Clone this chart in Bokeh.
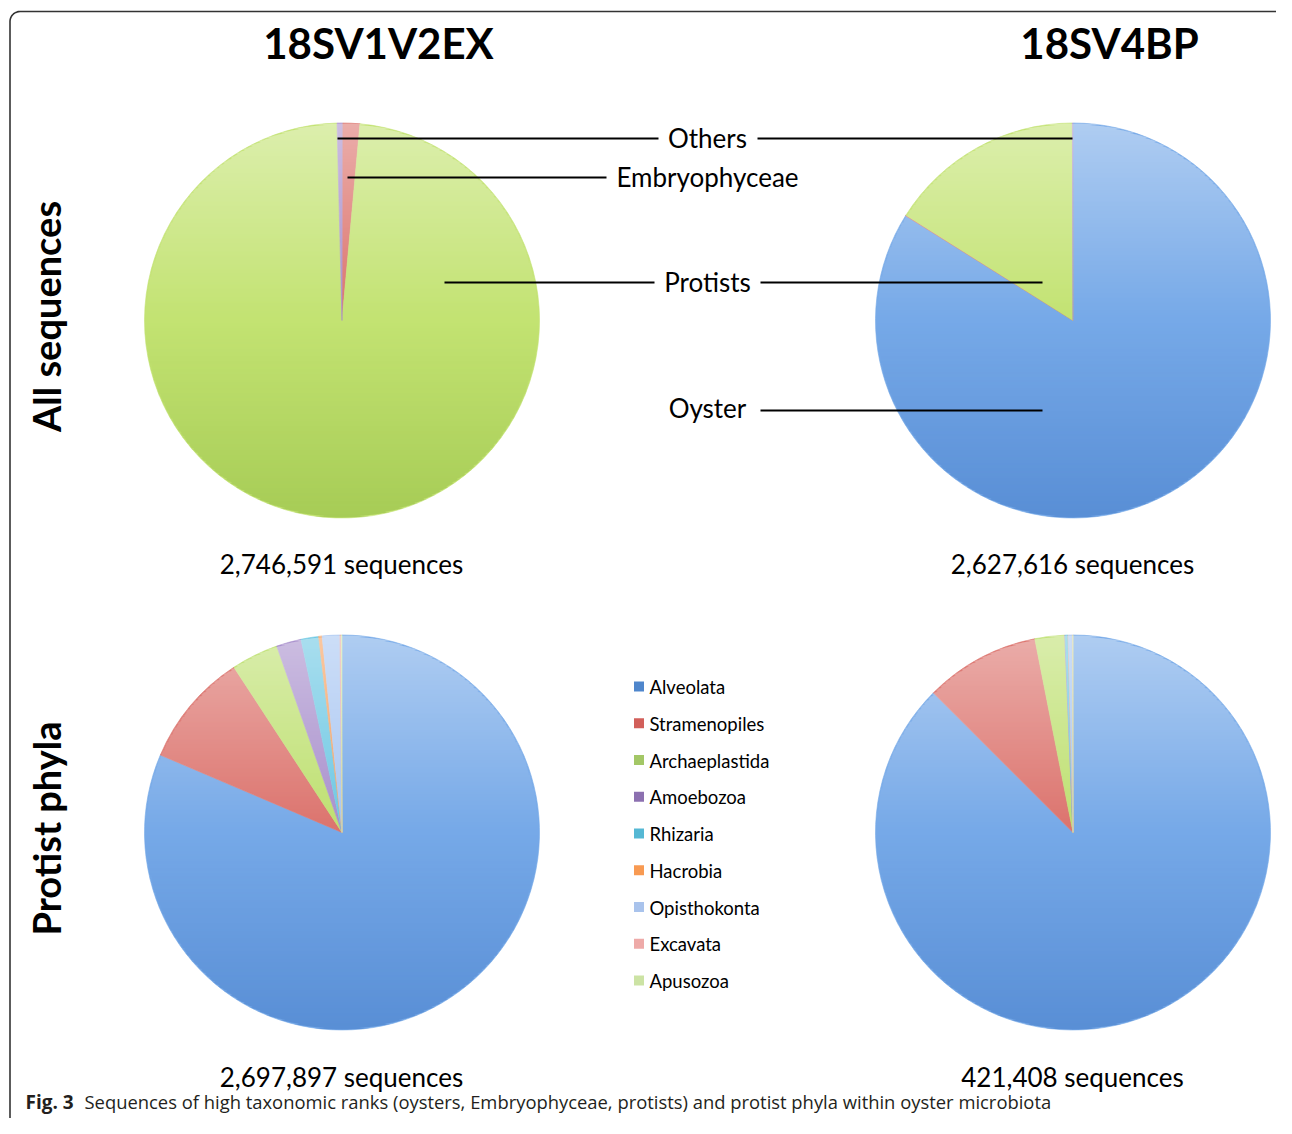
import numpy as np
from bokeh.plotting import figure
from bokeh.models import Range1d, ColumnDataSource
from bokeh.embed import file_html
from bokeh.resources import INLINE
from bokeh.core.properties import value

# ---------------- data ----------------
titles = ["18SV1V2EX", "18SV4BP"]
row_labels = ["All sequences", "Protist phyla"]

ranks = ["Oyster", "Embryophyceae", "Protists", "Others"]
ranks_v1v2 = [0.05, 1.4, 98.15, 0.4]      # % of sequences
ranks_v4 = [83.9, 0.05, 16.0, 0.05]

phyla = ["Alveolata", "Stramenopiles", "Archaeplastida", "Amoebozoa", "Rhizaria",
         "Hacrobia", "Opisthokonta", "Excavata", "Apusozoa"]
phyla_v1v2 = [81.4, 9.36, 3.86, 2.03, 1.44, 0.28, 1.44, 0.11, 0.06]
phyla_v4 = [87.5, 9.4, 2.43, 0.05, 0.22, 0.02, 0.33, 0.03, 0.02]

seq_counts = ["2,746,591 sequences", "2,627,616 sequences",
              "2,697,897 sequences", "421,408 sequences"]

caption_bold = "Fig. 3"
caption_text = ("Sequences of high taxonomic ranks (oysters, Embryophyceae, protists) "
                "and protist phyla within oyster microbiota")

# ---------------- styles ----------------
rank_colors = ["#76A9E8", "#DC736D", "#C3E372", "#A88FCC"]
phyla_colors = ["#76A9E8", "#DC736D", "#BEE070", "#A88FCC", "#6CC7E3",
                "#F7A05E", "#A8C6F2", "#EBA4A2", "#CFE7A4"]
legend_colors = ["#4F86CC", "#D25F5A", "#A3C766", "#8C70B0", "#55B8D4",
                 "#F89A52", "#A9C3EC", "#EEAAA8", "#CCE3A4"]
bottom_tints = [(100, 150, 20), (20, 80, 170), (20, 80, 170), (20, 80, 170)]

FONT = "Lato"
W, H = 1276, 1118

p = figure(width=W, height=H, x_range=Range1d(0, W), y_range=Range1d(-H, 0),
           output_backend="svg", toolbar_location=None, min_border=0,
           x_axis_location=None, y_axis_location=None)
p.grid.visible = False
p.outline_line_color = None
p.background_fill_color = "white"
p.border_fill_color = "white"

# rounded frame
def rounded_rect(x0, y0, x1, y1, r, n=12):
    xs, ys = [], []
    corners = [(x1 - r, y0 + r, -np.pi / 2, 0), (x1 - r, y1 - r, 0, np.pi / 2),
               (x0 + r, y1 - r, np.pi / 2, np.pi), (x0 + r, y0 + r, np.pi, 1.5 * np.pi)]
    for cx, cy, a0, a1 in corners:
        t = np.linspace(a0, a1, n)
        xs += list(cx + r * np.cos(t))
        ys += list(cy + r * np.sin(t))
    xs.append(xs[0]); ys.append(ys[0])
    return xs, [-y for y in ys]

bx, by = rounded_rect(9.5, 11, 1290, 1131, 10)
p.line(bx, by, line_color="#333333", line_width=1.6)

R = 197.5
centers = [(341.5, 320), (1072.5, 320), (341.5, 832), (1072.5, 832)]
pie_data = [(ranks_v1v2, rank_colors), (ranks_v4, rank_colors),
            (phyla_v1v2, phyla_colors), (phyla_v4, phyla_colors)]

# gradient overlay (light top, darker bottom)
N = 300
yy, xx = np.mgrid[0:N, 0:N]
u = (xx + 0.5) / N * 2 - 1
v = (yy + 0.5) / N * 2 - 1
dist = np.sqrt(u ** 2 + v ** 2)
mask = np.clip((1 - dist) * N / 2, 0, 1)
t = (v + 1) / 2
upper = t > 0.5

def make_overlay(tint):
    img = np.zeros((N, N), dtype=np.uint32)
    view = img.view(dtype=np.uint8).reshape((N, N, 4))
    alpha = np.where(upper, 0.42 * (t - 0.5) / 0.5, 0.30 * (0.5 - t) / 0.5) * mask
    for k in range(3):
        view[:, :, k] = np.where(upper, 255, tint[k])
    view[:, :, 3] = (alpha * 255).astype(np.uint8)
    return img

for (cx, cy), (vals, cols), tint in zip(centers, pie_data, bottom_tints):
    vv = np.array(vals, dtype=float)
    f = np.cumsum(vv) / vv.sum()
    s = np.concatenate([[0.0], f[:-1]])
    src = ColumnDataSource(dict(start=np.pi / 2 - 2 * np.pi * s,
                                end=np.pi / 2 - 2 * np.pi * f,
                                color=cols[:len(vals)]))
    p.wedge(x=cx, y=-cy, radius=R, start_angle="start", end_angle="end",
            direction="clock", fill_color="color", line_color="color",
            line_width=0.6, source=src)
    p.image_rgba(image=[make_overlay(tint)], x=cx - R, y=-(cy + R), dw=2 * R, dh=2 * R)

# leader lines
p.segment(x0=[337, 757, 347, 444, 760, 760], y0=[-138, -138, -177, -282, -282, -410],
          x1=[658, 1072, 606, 654, 1042, 1042], y1=[-138, -138, -177, -282, -282, -410],
          line_color="black", line_width=2.2)

# annotation labels
p.text(x=[707, 707, 707, 707], y=[-137, -176, -281, -407],
       text=["Others", "Embryophyceae", "Protists", "Oyster"],
       text_font=value(FONT), text_font_size="26px", text_align="center",
       text_baseline="middle", text_color="black")

# titles
p.text(x=[378, 1109], y=[-42, -42], text=titles, text_font=value(FONT),
       text_font_size="42px", text_font_style="bold", text_align="center",
       text_baseline="middle", text_color="black")

# row labels
p.text(x=[45, 45], y=[-316, -828], text=row_labels, angle=np.pi / 2,
       text_font=value(FONT), text_font_size="38px", text_font_style="bold",
       text_align="center", text_baseline="middle", text_color="black")

# sequence counts
p.text(x=[341, 1072, 341, 1072], y=[-563, -563, -1076, -1076], text=seq_counts,
       text_font=value(FONT), text_font_size="26px", text_align="center",
       text_baseline="middle", text_color="black")

# legend
ly = [-(686 + 36.75 * i) for i in range(len(phyla))]
p.rect(x=[638.5] * len(phyla), y=ly, width=10, height=10, fill_color=legend_colors,
       line_color=None)
p.text(x=[649] * len(phyla), y=[y_ - 0.5 for y_ in ly], text=phyla, text_font=value(FONT),
       text_font_size="18.5px", text_align="left", text_baseline="middle",
       text_color="black")

# caption
p.text(x=[25], y=[-1101], text=[caption_bold], text_font=value("Open Sans"),
       text_font_size="19px", text_font_style="bold", text_align="left",
       text_baseline="middle", text_color="#231F20")
p.text(x=[84], y=[-1101], text=[caption_text], text_font=value("Open Sans"),
       text_font_size="18.4px", text_align="left", text_baseline="middle",
       text_color="#231F20")

open("out.html", "w").write(file_html(p, INLINE))
